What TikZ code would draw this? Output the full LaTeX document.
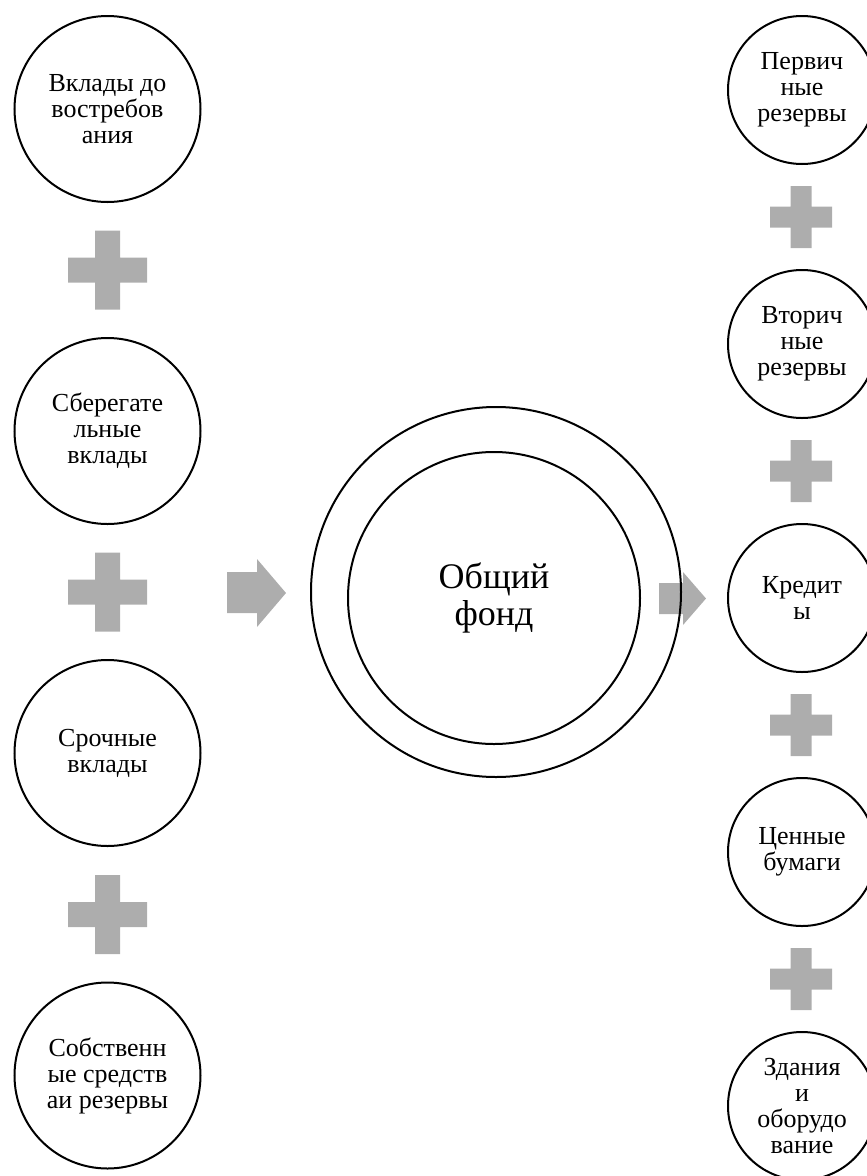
\documentclass[tikz,border=0pt]{standalone}
\usepackage{fontspec}
\setmainfont{Liberation Serif}
\usepackage{tikz}
\usetikzlibrary{shapes,backgrounds,positioning}

\definecolor{plusgray}{RGB}{173,173,173}

\begin{document}
\begin{tikzpicture}[x=1pt, y=-1pt,
  lnode/.style={circle, draw, line width=2pt, inner sep=0pt, align=center,
                minimum size=186pt, font=\fontsize{26}{26}\selectfont},
  rnode/.style={lnode, minimum size=148pt},
  fnode/.style={lnode, font=\fontsize{36}{37}\selectfont},
  plusmark/.style={fill=plusgray, draw=none},
  blockarrow/.style={fill=plusgray, draw=none}]

\useasboundingbox (0,0) rectangle (867,1176);

\begin{scope}[on background layer]

% left plus signs
\fill [plusmark] (95,230.5) rectangle (120,309.5) (68,257.5) rectangle (147,282.5);
\fill [plusmark] (95,552.5) rectangle (120,631.5) (68,579.5) rectangle (147,604.5);
\fill [plusmark] (95,875) rectangle (120,954) (68,902) rectangle (147,927);

% right plus signs
\fill [plusmark] (790.5,186) rectangle (811.5,248) (770,206.5) rectangle (832,227.5);
\fill [plusmark] (790.5,440) rectangle (811.5,502) (770,460.5) rectangle (832,481.5);
\fill [plusmark] (790.5,694) rectangle (811.5,756) (770,714.5) rectangle (832,735.5);
\fill [plusmark] (790.5,948) rectangle (811.5,1010) (770,968.5) rectangle (832,989.5);

% arrows in and out
\fill [blockarrow] (227,572) -- (257,572) -- (257,559) -- (286,593)
                   -- (257,627) -- (257,613) -- (227,613) -- cycle;
\fill [blockarrow] (659,583) -- (683,583) -- (683,572) -- (706,598.5)
                   -- (683,625) -- (683,614) -- (659,614) -- cycle;

\end{scope}

  % sources
  \node (demand) [lnode] at (107.5,109) {Вклады до\\востребов\\ания};
  \node (saving) [lnode] at (107.5,431) {Сберегате\\льные\\вклады};
  \node (term) [lnode] at (107.5,753) {Срочные\\вклады};
  \node (equity) [lnode] at (107.5,1075.5) {Собственн\\ые средств\\аи резервы};

  % pool
  \node (pool) [fnode, minimum size=370pt] at (496,592) {};
  \node (poolin) [fnode, minimum size=292pt] at (494,598) {Общий\\фонд};

  % uses
  \node (prim) [rnode] at (802,90) {Первич\\ные\\резервы};
  \node (sec) [rnode] at (802,344) {Вторич\\ные\\резервы};
  \node (loans) [rnode] at (802,598) {Кредит\\ы};
  \node (secur) [rnode] at (802,852) {Ценные\\бумаги};
  \node (build) [rnode] at (802,1106) {Здания\\и\\оборудо\\вание};

\end{tikzpicture}
\end{document}
